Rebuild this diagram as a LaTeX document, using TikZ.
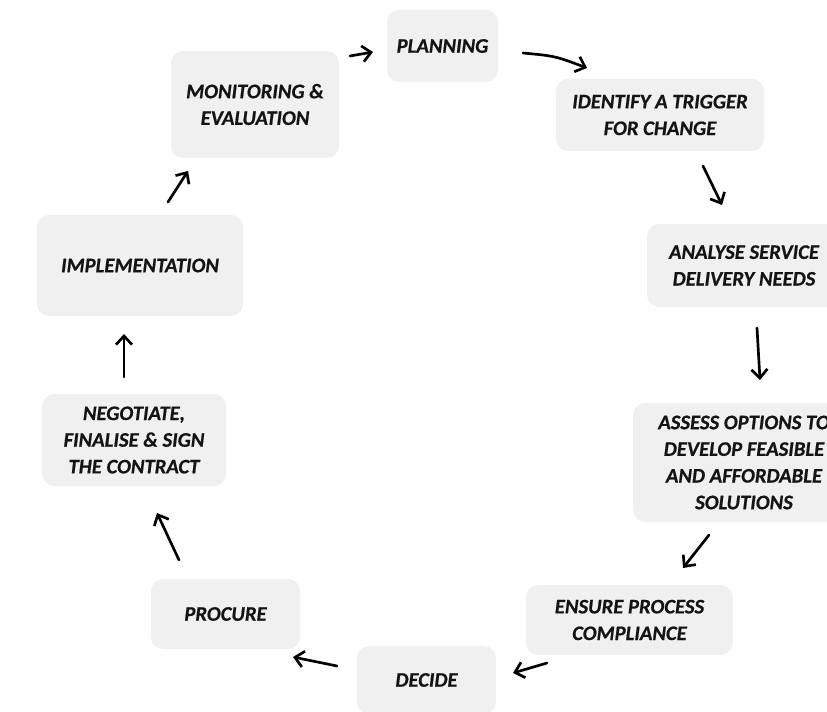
\documentclass[tikz,border=0pt]{standalone}
\usepackage{fontspec}
\setmainfont{Carlito}[BoldItalicFeatures={FakeBold=0.6}]
\usetikzlibrary{arrows.meta}

\definecolor{boxgray}{HTML}{F0F0F0}
\definecolor{inkgray}{HTML}{141414}

\tikzset{
    stage/.style={fill=boxgray, rounded corners=9pt, align=center, inner sep=0pt,
        text=inkgray, font=\fontsize{15.5}{20}\selectfont\bfseries\itshape},
    flow/.style={line width=2pt, line cap=round, -{Straight Barb[length=6.5pt,width=12pt]}},
}

\begin{document}
\begin{tikzpicture}[x=0.75pt,y=-0.75pt]
    \useasboundingbox (0,0) rectangle (827,712);
    \clip (0,0) rectangle (827,712);

    % Etapas del ciclo
    \node[stage, minimum width=83.25pt, minimum height=54pt] (plan) at (442.5,46) {PLANNING};
    \node[stage, minimum width=156pt, minimum height=54pt] (trigger) at (660,115) {IDENTIFY A TRIGGER\\FOR CHANGE};
    \node[stage, minimum width=145.5pt, minimum height=62.25pt] (needs) at (744,265.5) {ANALYSE SERVICE\\DELIVERY NEEDS};
    \node[stage, minimum width=166.5pt, minimum height=89.25pt] (options) at (744,462.5) {ASSESS OPTIONS TO\\DEVELOP FEASIBLE\\AND AFFORDABLE\\SOLUTIONS};
    \node[stage, minimum width=155.25pt, minimum height=52.5pt] (comply) at (629.5,620) {ENSURE PROCESS\\COMPLIANCE};
    \node[stage, minimum width=104.25pt, minimum height=51pt] (decide) at (426.5,680) {DECIDE};
    \node[stage, minimum width=111.75pt, minimum height=52.5pt] (procure) at (225.5,614) {PROCURE};
    \node[stage, minimum width=138pt, minimum height=69pt] (contract) at (134,440) {NEGOTIATE,\\FINALISE \& SIGN\\THE CONTRACT};
    \node[stage, minimum width=154.5pt, minimum height=75.75pt] (implement) at (140,265.5) {IMPLEMENTATION};
    \node[stage, minimum width=126pt, minimum height=80.25pt] (monitor) at (255,104.5) {MONITORING \&\\EVALUATION};

    % Extremos de las flechas
    \coordinate (m1) at (350,56);   \coordinate (p0) at (373,52);
    \coordinate (p1) at (523,53);   \coordinate (t0) at (587,68);
    \coordinate (t1) at (703,166);  \coordinate (n0) at (722,205);
    \coordinate (n1) at (757,328);  \coordinate (o0) at (760,380);
    \coordinate (o1) at (709,535);  \coordinate (c0) at (683,568);
    \coordinate (c1) at (547,663);  \coordinate (d0) at (513,673);
    \coordinate (d1) at (337,666);  \coordinate (r0) at (293,657);
    \coordinate (r1) at (179,560);  \coordinate (k0) at (157,513);
    \coordinate (k1) at (124,377);  \coordinate (i0) at (124,334);
    \coordinate (i1) at (168,202);  \coordinate (e0) at (188,171);

    % Flechas
    \draw[flow] (m1) -- (p0);
    \draw[flow] (p1) .. controls (555,56) .. (t0);
    \draw[flow] (t1) -- (n0);
    \draw[flow] (n1) -- (o0);
    \draw[flow] (o1) -- (c0);
    \draw[flow] (c1) -- (d0);
    \draw[flow] (d1) -- (r0);
    \draw[flow] (r1) -- (k0);
    \draw[flow] (k1) -- (i0);
    \draw[flow] (i1) -- (e0);
\end{tikzpicture}
\end{document}
